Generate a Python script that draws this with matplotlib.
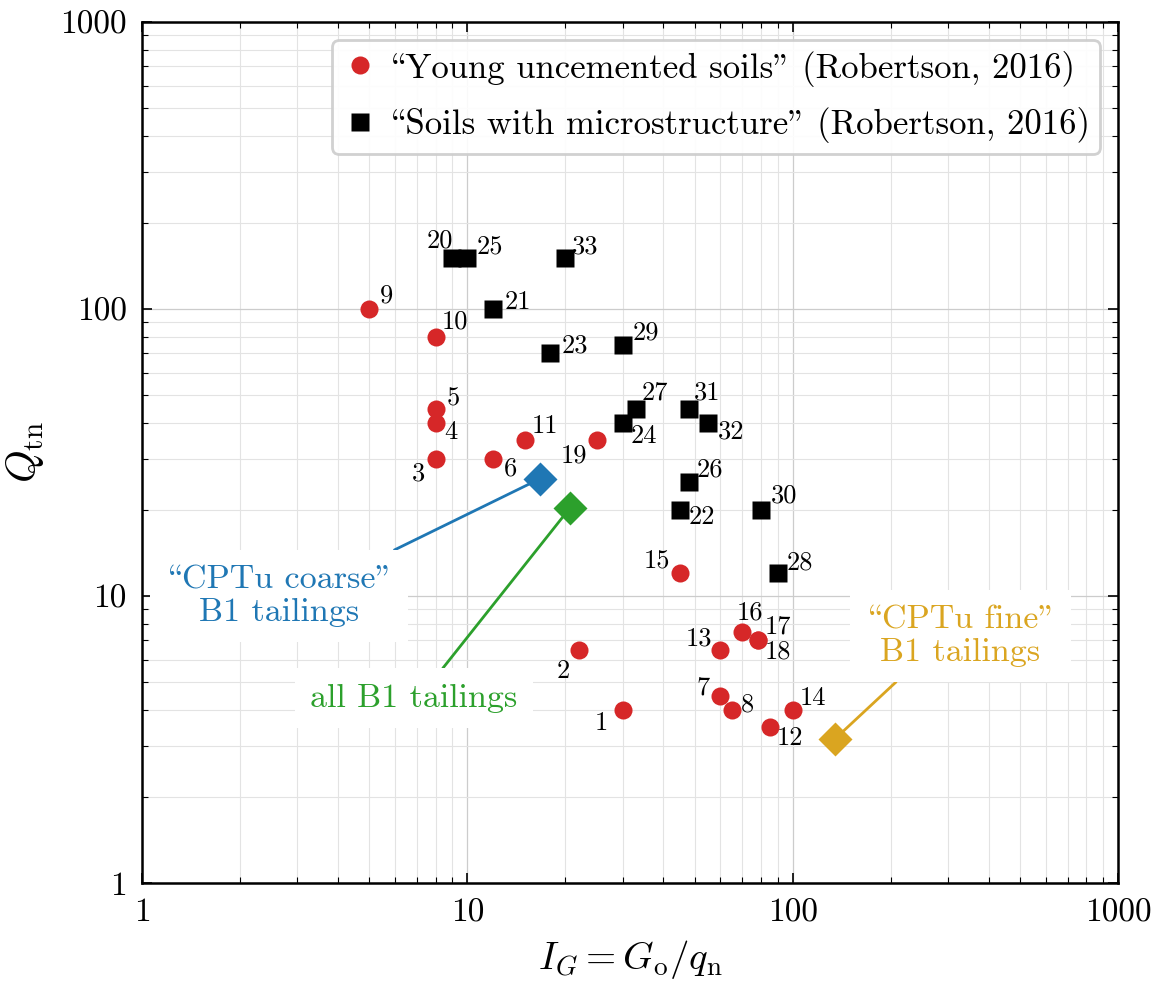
import matplotlib
matplotlib.use("Agg")
import matplotlib.pyplot as plt
from matplotlib.ticker import LogLocator, FuncFormatter, NullFormatter

plt.rcParams["font.family"] = ["cmr10", "DejaVu Serif"]
plt.rcParams["mathtext.fontset"] = "cm"
plt.rcParams["axes.formatter.use_mathtext"] = True
plt.rcParams["axes.unicode_minus"] = False

# in cmr10 (TeX layout) the backslash slot holds the opening double quote
# and the straight double quote slot holds the closing one
LQ, RQ = "\\", '"'

# "Young uncemented soils" (red circles)
red_ids = ["1", "2", "3", "4", "5", "6", "7", "8", "9", "10", "11", "12", "13", "14", "15", "16", "17", "18", "19"]
red_ig = [30, 22, 8, 8, 8, 12, 60, 65, 5, 8, 15, 85, 60, 100, 45, 70, 78, 78, 25]
red_q = [4.0, 6.5, 30, 40, 45, 30, 4.5, 4.0, 100, 80, 35, 3.5, 6.5, 4.0, 12, 7.5, 7.0, 7.0, 35]

# "Soils with microstructure" (black squares)
blk_ids = ["20", "21", "22", "23", "24", "25", "26", "27", "28", "29", "30", "31", "32", "33"]
blk_ig = [9, 12, 45, 18, 30, 10, 48, 33, 90, 30, 80, 48, 55, 20]
blk_q = [150, 100, 20, 70, 40, 150, 25, 45, 12, 75, 20, 45, 40, 150]

# B1 tailings
tail_names = [LQ + "CPTu coarse" + RQ + "\nB1 tailings", "all B1 tailings", LQ + "CPTu fine" + RQ + "\nB1 tailings"]
tail_ig = [16.7, 20.7, 135]
tail_q = [25.6, 20.3, 3.18]
tail_colors = ["#1f77b4", "#2ca02c", "#daa520"]

# label offsets in pixels (dx, dy)
lab_off = {
    "1": (-21, -13), "2": (-15, -21), "3": (-17, -15), "4": (15, -9), "5": (17, 10),
    "6": (17, -10), "7": (-17, 8), "8": (16, 6), "9": (17, 13), "10": (19, 15),
    "11": (20, 14), "12": (20, -11), "13": (-22, 11), "14": (20, 12), "15": (-23, 13),
    "16": (8, 19), "17": (20, 14), "18": (20, -11), "19": (-23, -16),
    "20": (-13, 18), "21": (25, 7), "22": (22, -8), "23": (25, 8), "24": (21, -13),
    "25": (23, 12), "26": (21, 12), "27": (19, 16), "28": (22, 11), "29": (23, 12),
    "30": (23, 14), "31": (18, 16), "32": (23, -8), "33": (20, 12),
}

fig = plt.figure(figsize=(11.57, 9.83), dpi=100)
ax = fig.add_axes([0.1227, 0.1017, 0.8436, 0.8759])
ax.set_xscale("log")
ax.set_yscale("log")
ax.set_xlim(1, 1000)
ax.set_ylim(1, 1000)

ax.plot(red_ig, red_q, "o", color="#d62728", ms=13, mec="none", zorder=4,
        label=LQ + "Young uncemented soils" + RQ + " (Robertson, 2016)")
ax.plot(blk_ig, blk_q, "s", color="black", ms=13, mec="none", zorder=4,
        label=LQ + "Soils with microstructure" + RQ + " (Robertson, 2016)")

for ids, xs, ys in [(red_ids, red_ig, red_q), (blk_ids, blk_ig, blk_q)]:
    for i, x, y in zip(ids, xs, ys):
        ax.annotate(i, (x, y), xytext=lab_off[i], textcoords="offset pixels",
                    ha="center", va="center", fontsize=19, zorder=5)

# annotation text placement (data coords) and where the leader line leaves the box
txt_pos = [(2.64, 10.0), (6.86, 4.41), (327, 7.26)]
rel = [(0.88, 1.02), (0.58, 1.0), (0.25, 0.0)]
for name, x, y, c, tp, rp in zip(tail_names, tail_ig, tail_q, tail_colors, txt_pos, rel):
    ax.plot([x], [y], "D", color=c, ms=17, mec="none", zorder=6)
    ax.annotate(name, (x, y), xytext=tp, textcoords="data", ha="center", va="center",
                color=c, fontsize=24.5, linespacing=1.15, zorder=3,
                bbox=dict(boxstyle="square,pad=0.45", fc="white", ec="none"),
                arrowprops=dict(arrowstyle="-", color=c, lw=2, shrinkA=0, shrinkB=0, relpos=rp))

ax.xaxis.set_major_locator(LogLocator(base=10, numticks=10))
ax.yaxis.set_major_locator(LogLocator(base=10, numticks=10))
ax.xaxis.set_minor_locator(LogLocator(base=10, subs=range(2, 10), numticks=30))
ax.yaxis.set_minor_locator(LogLocator(base=10, subs=range(2, 10), numticks=30))
fmt = FuncFormatter(lambda v, p: "%d" % round(v))
ax.xaxis.set_major_formatter(fmt)
ax.yaxis.set_major_formatter(fmt)
ax.xaxis.set_minor_formatter(NullFormatter())
ax.yaxis.set_minor_formatter(NullFormatter())

ax.tick_params(which="both", direction="in", top=True, right=True, labelsize=24)
ax.tick_params(which="major", length=7, width=1.2, pad=11)
ax.tick_params(which="minor", length=4, width=0.8)
for s in ax.spines.values():
    s.set_linewidth(1.8)

ax.grid(True, which="major", color="#cccccc", lw=0.9)
ax.grid(True, which="minor", color="#e3e3e3", lw=0.8)
ax.set_axisbelow(True)

ax.set_xlabel(r"$I_G = G_\mathrm{o}/q_\mathrm{n}$", fontsize=28, labelpad=8)
ax.set_ylabel(r"$Q_\mathrm{tn}$", fontsize=30, labelpad=10)

leg = ax.legend(loc="upper right", fontsize=25, frameon=True, fancybox=True,
                framealpha=0.9, edgecolor="#cccccc", borderpad=0.3, labelspacing=0.6,
                handletextpad=0.3, handlelength=1.0, borderaxespad=0,
                bbox_to_anchor=(0.9816, 0.979))
leg.get_frame().set_linewidth(2)

fig.savefig("out.png", dpi=100)
